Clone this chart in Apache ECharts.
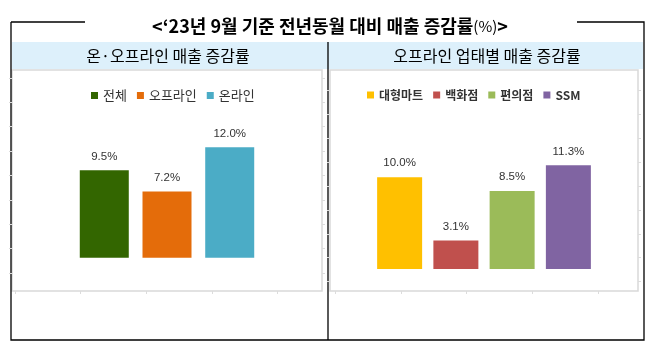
<!DOCTYPE html>
<html>
<head>
<meta charset="utf-8">
<script src="https://cdn.jsdelivr.net/npm/echarts@6/dist/echarts.min.js"></script>
<style>
  html, body { margin: 0; padding: 0; background: #fff; }
  #chart { width: 655px; height: 354px; }
</style>
</head>
<body>
<div id="chart"></div>
<script>
// data
var titleText = '<‘23년 9월 기준 전년동월 대비 매출 증감률';
var leftHeader = '온·오프라인 매출 증감률';
var rightHeader = '오프라인 업태별 매출 증감률';

var leftNames = ['전체', '오프라인', '온라인'];
var leftValues = [9.5, 7.2, 12.0];
var leftColors = ['#336600', '#E46C0A', '#4BACC6'];

var rightNames = ['대형마트', '백화점', '편의점', 'SSM'];
var rightValues = [10.0, 3.1, 8.5, 11.3];
var rightColors = ['#FFC000', '#C0504D', '#9BBB59', '#8064A2'];

var KR = '"Noto Sans CJK KR", "Noto Sans", sans-serif';
var tickColor = '#dcdcdc';

var myChart = echarts.init(document.getElementById('chart'));

function pctLabel(p) {
  return p.value.toFixed(1) + '%';
}

function makeBars(names, values, colors, axisIdx, barW, gap) {
  return names.map(function (n, i) {
    return {
      name: n,
      type: 'bar',
      xAxisIndex: axisIdx,
      yAxisIndex: axisIdx,
      barWidth: barW,
      barGap: gap,
      itemStyle: { color: colors[i] },
      label: {
        show: true,
        position: 'top',
        distance: 8,
        formatter: pctLabel,
        fontFamily: '"Liberation Sans", sans-serif',
        fontSize: 11.5,
        color: '#333'
      },
      emphasis: { disabled: true },
      data: [values[i]]
    };
  });
}

// tick-only axes (faint marks around the plot boxes)
function tickY(grid, pos) {
  return {
    type: 'value', gridIndex: grid, position: pos, min: 0, max: 8, interval: 1,
    axisLine: { show: false }, axisLabel: { show: false }, splitLine: { show: false },
    axisTick: { show: true, length: 3, lineStyle: { color: tickColor } }
  };
}
function tickX(grid) {
  return {
    type: 'value', gridIndex: grid, position: 'bottom', min: 0, max: 4, interval: 1,
    axisLine: { show: false }, axisLabel: { show: false }, splitLine: { show: false },
    axisTick: { show: true, length: 3, lineStyle: { color: tickColor } }
  };
}
function hiddenAxis(grid) {
  return { type: 'value', gridIndex: grid, min: 0, max: 1, show: false };
}

var option = {
  animation: false,
  textStyle: { fontFamily: KR },
  graphic: [
    // header band
    { type: 'rect', shape: { x: 12, y: 42, width: 631, height: 27 }, style: { fill: '#DDF0FB' }, z: 0 },
    // outer frame
    { type: 'polyline', shape: { points: [[11, 22], [85, 22]] }, style: { stroke: '#000', lineWidth: 1.3 } },
    { type: 'polyline', shape: { points: [[577, 22], [644, 22], [644, 340], [11, 340], [11, 22]] }, style: { stroke: '#000', lineWidth: 1.3, fill: null } },
    { type: 'line', shape: { x1: 328, y1: 42, x2: 328, y2: 340 }, style: { stroke: '#000', lineWidth: 1.3 } },
    // title
    {
      type: 'text', x: 330, y: 26,
      style: {
        text: '{b|' + titleText + '}{s|(%)}{b|>}',
        align: 'center', verticalAlign: 'middle',
        rich: {
          b: { fontFamily: KR, fontSize: 18, fontWeight: 'bold', fill: '#000' },
          s: { fontFamily: KR, fontSize: 15, fill: '#000' }
        }
      }
    },
    { type: 'text', x: 168, y: 56, style: { text: leftHeader, fontFamily: KR, fontSize: 16, fill: '#000', align: 'center', verticalAlign: 'middle' } },
    { type: 'text', x: 487, y: 56, style: { text: rightHeader, fontFamily: KR, fontSize: 16, fill: '#000', align: 'center', verticalAlign: 'middle' } }
  ],
  legend: [
    {
      data: leftNames, left: 86, top: 84, icon: 'rect', itemWidth: 7, itemHeight: 7, itemGap: 10,
      textStyle: { fontFamily: KR, fontSize: 13, color: '#333' }, selectedMode: false
    },
    {
      data: rightNames, left: 362, top: 84, icon: 'rect', itemWidth: 7, itemHeight: 7, itemGap: 10,
      textStyle: { fontFamily: KR, fontSize: 12, fontWeight: 'bold', color: '#333' }, selectedMode: false
    }
  ],
  grid: [
    { left: 12, top: 70, width: 310, height: 221, show: true, borderColor: '#d9d9d9', borderWidth: 1.5, backgroundColor: '#fff' },
    { left: 330, top: 70, width: 308, height: 221, show: true, borderColor: '#d9d9d9', borderWidth: 1.5, backgroundColor: '#fff' },
    { left: 12, top: 77.8, width: 310, height: 195.2 },
    { left: 330, top: 90, width: 308, height: 191.7 },
    { left: 15, top: 70, width: 262.7, height: 221 },
    { left: 335, top: 70, width: 263, height: 221 }
  ],
  xAxis: [
    { type: 'category', gridIndex: 0, data: [''], show: false },
    { type: 'category', gridIndex: 1, data: [''], show: false },
    hiddenAxis(2), hiddenAxis(3),
    tickX(4), tickX(5)
  ],
  yAxis: [
    { type: 'value', gridIndex: 0, min: -3.6, max: 20.4, show: false },
    { type: 'value', gridIndex: 1, min: -2.4, max: 21.7, show: false },
    tickY(2, 'left'), tickY(2, 'right'),
    tickY(3, 'left'), tickY(3, 'right'),
    hiddenAxis(4), hiddenAxis(5)
  ],
  series: makeBars(leftNames, leftValues, leftColors, 0, 49, '28%')
    .concat(makeBars(rightNames, rightValues, rightColors, 1, 45, '25%'))
};

myChart.setOption(option);
</script>
</body>
</html>
